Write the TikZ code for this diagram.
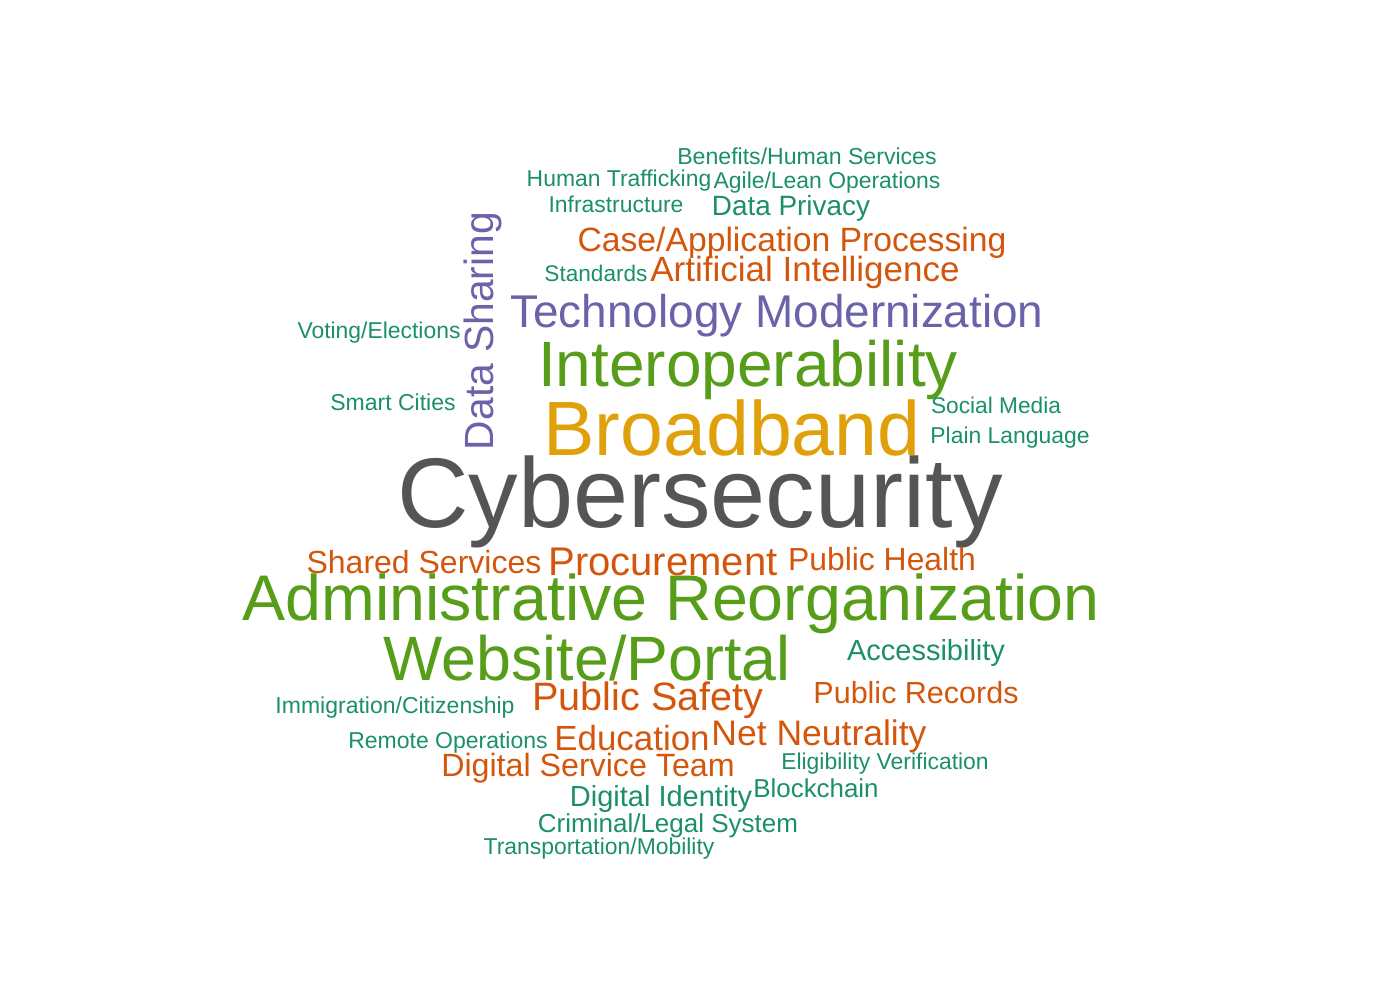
\documentclass[tikz,border=0pt]{standalone}
\usepackage{fontspec}
\setmainfont{Liberation Sans}
\usepackage{tikz}

\definecolor{cgray}{HTML}{555555}
\definecolor{cgreen}{HTML}{569D1A}
\definecolor{cgold}{HTML}{E0A00A}
\definecolor{corange}{HTML}{D4560C}
\definecolor{cpurple}{HTML}{6A63AA}
\definecolor{cteal}{HTML}{1B8F6C}

\tikzset{
    word/.style={inner sep=0pt, anchor=base},
    fs/.style={font=\fontsize{#1}{#1}\selectfont}
}

\begin{document}
\begin{tikzpicture}[x=1pt,y=-1pt]
            \useasboundingbox (0,0) rectangle (1400,1000);
            %\node at (700,40) {word cloud};
            \node[word,fs=99,cgray](cyber) at (700,527) {Cybersecurity};
            \node[word,fs=77,cgold](broad) at (732,455) {Broadband};
            \node[word,fs=64,cgreen](inter) at (748,386) {Interoperability};
            \node[word,fs=45.9,cpurple](tech) at (777,327) {Technology Modernization};
            \node[word,fs=40.8,cpurple,rotate=90](share) at (493,331) {Data Sharing};
            \node[word,fs=35,corange](ai) at (805,282) {Artificial Intelligence};
            \node[word,fs=33.7,corange](case) at (792,252) {Case/Application Processing};
            \node[word,fs=27.9,cteal](priv) at (791,216) {Data Privacy};
            \node[word,fs=22.9,cteal](infra) at (616,213) {Infrastructure};
            \node[word,fs=22.9,cteal](traff) at (619,187) {Human Trafficking};
            \node[word,fs=22.9,cteal](agile) at (827,189) {Agile/Lean Operations};
            \node[word,fs=23.1,cteal](benef) at (807,165) {Benefits/Human Services};
            \node[word,fs=22.6,cteal](stand) at (596,282) {Standards};
            \node[word,fs=22.9,cteal](vote) at (379,338) {Voting/Elections};
            \node[word,fs=23,cteal](smart) at (393,410) {Smart Cities};
            \node[word,fs=22.7,cteal](social) at (996,413) {Social Media};
            \node[word,fs=22.9,cteal](plain) at (1010,443) {Plain Language};

            \node[word,fs=32,corange](sharedsv) at (424,573) {Shared Services};
            \node[word,fs=40,corange](proc) at (663,575) {Procurement};
            \node[word,fs=31.9,corange](health) at (882,570) {Public Health};
            \node[word,fs=64.5,cgreen](admin) at (671,620) {Administrative Reorganization};
            \node[word,fs=62.7,cgreen](web) at (587,680) {Website/Portal};
            \node[word,fs=29,cteal](access) at (926,660) {Accessibility};
            \node[word,fs=39.6,corange](safety) at (648,710) {Public Safety};
            \node[word,fs=30.5,corange](records) at (916,703) {Public Records};
            \node[word,fs=23,cteal](immig) at (395,713) {Immigration/Citizenship};
            \node[word,fs=23,cteal](remote) at (448,748) {Remote Operations};
            \node[word,fs=34.9,corange](edu) at (632,750) {Education};
            \node[word,fs=35.5,corange](neutral) at (819,745) {Net Neutrality};
            \node[word,fs=32.2,corange](team) at (588,776) {Digital Service Team};
            \node[word,fs=22.9,cteal](elig) at (885,769) {Eligibility Verification};
            \node[word,fs=29,cteal](ident) at (661,806) {Digital Identity};
            \node[word,fs=25.9,cteal](block) at (816,797) {Blockchain};
            \node[word,fs=26,cteal](legal) at (668,832) {Criminal/Legal System};
            \node[word,fs=22.9,cteal](trans) at (599,854) {Transportation/Mobility};
        \end{tikzpicture}
\end{document}
